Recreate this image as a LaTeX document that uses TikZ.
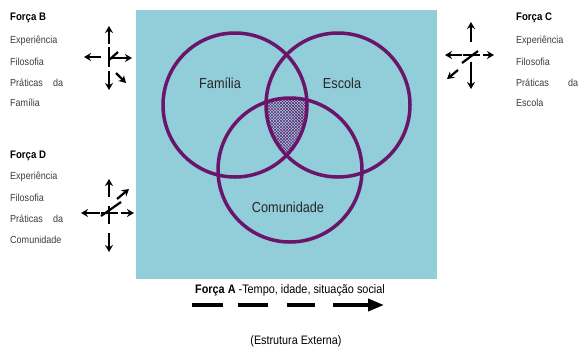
\documentclass[tikz,border=0pt]{standalone}
\usepackage{fontspec}
\setmainfont{Liberation Sans}[FakeStretch=0.88]
\usetikzlibrary{arrows.meta,patterns}
\definecolor{bg}{RGB}{146,205,218}
\definecolor{vpurple}{RGB}{106,20,106}
\definecolor{txtgray}{RGB}{60,60,60}
\tikzset{
  arr/.style={line width=2.2bp,-{Stealth[length=7bp,width=8bp]}},
  bar/.style={line width=2.2bp},
  vcirc/.style={draw=vpurple,line width=3.5bp},
  body/.style={anchor=west,inner sep=0pt,text=txtgray,font=\fontsize{10.3}{12}\selectfont},
  ttl/.style={anchor=west,inner sep=0pt,font=\bfseries\fontsize{11}{13}\selectfont},
  vlabel/.style={inner sep=0pt,text=black!85,font=\fontsize{14.5}{16}\selectfont},
  dashseg/.style={line width=3.6bp},
}
\begin{document}
\begin{tikzpicture}[x=1bp,y=-1bp]
\useasboundingbox (0,0) rectangle (580,351);
% background rectangle
\fill[bg] (136,10) rectangle (437,279);
% hatched intersection
\begin{scope}
  \clip (235,105) circle[radius=72bp];
  \clip (338,105) circle[radius=72bp];
  \fill[pattern=north east lines,pattern color=vpurple] (290,170) circle[radius=72bp];
  \fill[pattern=north west lines,pattern color=vpurple] (290,170) circle[radius=72bp];
\end{scope}
% circles
\draw[vcirc] (235,105) circle[radius=72bp];
\draw[vcirc] (338,105) circle[radius=72bp];
\draw[vcirc] (290,170) circle[radius=72bp];
\node[vlabel] (fam) at (220,83) {Família};
\node[vlabel] (esc) at (342,83) {Escola};
\node[vlabel] (com) at (288,207) {Comunidade};

% Forca B
\node[ttl] (fb) at (10,18) {Força B};
\node[body] (fb1) at (10,41) {Experiência};
\node[body] (fb2) at (10,62) {Filosofia};
\node[body] (fb3) at (10,83) {\makebox[53bp][s]{Práticas\hfill da}};
\node[body] (fb4) at (10,103) {Família};
% Forca D
\node[ttl] (fd) at (10,156) {Força D};
\node[body] (fd1) at (10,177) {Experiência};
\node[body] (fd2) at (10,198) {Filosofia};
\node[body] (fd3) at (10,219) {\makebox[53bp][s]{Práticas\hfill da}};
\node[body] (fd4) at (10,240) {Comunidade};
% Forca C
\node[ttl] (fc) at (516,18) {Força C};
\node[body] (fc1) at (516,41) {Experiência};
\node[body] (fc2) at (516,62) {Filosofia};
\node[body] (fc3) at (516,83) {\makebox[62bp][s]{Práticas\hfill da}};
\node[body] (fc4) at (516,103) {Escola};

% Cross B
\draw[arr] (109,44) -- (109,26);
\draw[bar] (109,47) -- (109,67);
\draw[arr] (101,57) -- (84,57);
\draw[bar] (109,60) -- (118,52);
\draw[arr] (110,58) -- (132,58);
\draw[arr] (109,71) -- (109,90);
\draw[arr] (116,73) -- (126,83);

% Cross C
\draw[arr] (471,42) -- (471,22);
\draw[arr] (462,55) -- (445,55);
\draw[bar] (463,55) -- (480,55);
\draw[bar] (462,63) -- (478,51);
\draw[arr] (483,55) -- (494,55);
\draw[arr] (471,62) -- (471,89);
\draw[arr] (458,70) -- (447,79);

% Cross D
\draw[arr] (109,197) -- (109,179);
\draw[arr] (117,199) -- (129,189);
\draw[arr] (100,213) -- (81,213);
\draw[bar] (101,213) -- (118,213);
\draw[bar] (109,206) -- (109,224);
\draw[bar] (101,216) -- (121,202);
\draw[arr] (121,213) -- (134,213);
\draw[arr] (109,233) -- (109,252);

% Forca A
\node[inner sep=0pt,font=\fontsize{12.4}{14}\selectfont] (fa) at (290,290) {\textbf{Força A} -Tempo, idade, situação social};
\coordinate (d1a) at (192,305); \coordinate (d1b) at (223,305);
\coordinate (d2a) at (238,305); \coordinate (d2b) at (268,305);
\coordinate (d3a) at (287,305); \coordinate (d3b) at (315,305);
\coordinate (d4a) at (333,305); \coordinate (d4b) at (384,305);
\draw[dashseg] (d1a) -- (d1b);
\draw[dashseg] (d2a) -- (d2b);
\draw[dashseg] (d3a) -- (d3b);
\draw[dashseg,-{Triangle[length=16bp,width=12bp]}] (d4a) -- (d4b);
\node[inner sep=0pt,font=\fontsize{12.3}{14}\selectfont] (ext) at (296,341) {(Estrutura Externa)};
\end{tikzpicture}
\end{document}
